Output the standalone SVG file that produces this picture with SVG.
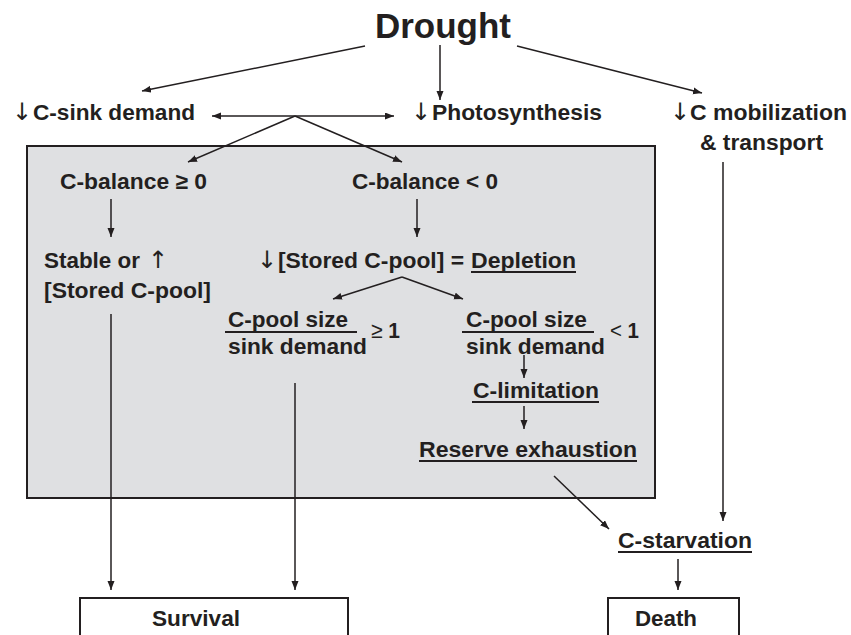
<svg xmlns="http://www.w3.org/2000/svg" width="851" height="635" viewBox="0 0 851 635">
<style>
  .t { font-family: "Liberation Sans", Arial, Helvetica, sans-serif; font-weight: bold; font-size: 22.5px; fill: #231f20; }
  .big { font-size: 35px; }
  .ar { font-family: "DejaVu Sans", "Liberation Sans", sans-serif; font-weight: normal; font-size: 24px; fill: #231f20; }
  .c { stroke: #231f20; stroke-width: 1.5; fill: none; }
  .ul { stroke: #231f20; stroke-width: 2; }
  .box { fill: #ffffff; stroke: #231f20; stroke-width: 2; }
</style>
<defs>
  <marker id="ah" markerUnits="userSpaceOnUse" markerWidth="10" markerHeight="8" refX="9" refY="3.5" orient="auto-start-reverse">
    <path d="M0,0 L9,3.5 L0,7 z" fill="#231f20"/>
  </marker>
</defs>
<rect width="851" height="635" fill="#ffffff"/>
<g id="panel">
  <rect x="27" y="146" width="628" height="352" fill="#dfe0e2" stroke="#231f20" stroke-width="2"/>
</g>
<g id="connectors">
  <line class="c" x1="365" y1="46" x2="142" y2="91" marker-end="url(#ah)"/>
  <line class="c" x1="440" y1="45" x2="440" y2="100" marker-end="url(#ah)"/>
  <line class="c" x1="517" y1="46" x2="702" y2="93" marker-end="url(#ah)"/>
  <line class="c" x1="212" y1="116" x2="394" y2="116" marker-start="url(#ah)" marker-end="url(#ah)"/>
  <line class="c" x1="295" y1="116" x2="188" y2="162" marker-end="url(#ah)"/>
  <line class="c" x1="295" y1="116" x2="402" y2="162" marker-end="url(#ah)"/>
  <line class="c" x1="111" y1="199" x2="111" y2="237" marker-end="url(#ah)"/>
  <line class="c" x1="417" y1="199" x2="417" y2="237" marker-end="url(#ah)"/>
  <line class="c" x1="402" y1="277" x2="333" y2="299" marker-end="url(#ah)"/>
  <line class="c" x1="402" y1="277" x2="463" y2="299" marker-end="url(#ah)"/>
  <line class="c" x1="524" y1="355" x2="524" y2="378" marker-end="url(#ah)"/>
  <line class="c" x1="524" y1="406" x2="524" y2="429" marker-end="url(#ah)"/>
  <line class="c" x1="554" y1="476" x2="609" y2="529" marker-end="url(#ah)"/>
  <line class="c" x1="723" y1="162" x2="723" y2="521" marker-end="url(#ah)"/>
  <line class="c" x1="678" y1="559" x2="678" y2="590" marker-end="url(#ah)"/>
  <line class="c" x1="111" y1="314" x2="111" y2="590" marker-end="url(#ah)"/>
  <line class="c" x1="295" y1="383" x2="295" y2="590" marker-end="url(#ah)"/>
</g>
<g id="drought">
  <text class="t big" x="375" y="38" textLength="136" lengthAdjust="spacingAndGlyphs">Drought</text>
</g>
<g id="sink-demand">
  <text class="ar" x="12" y="119.5">↓</text>
  <text class="t" x="33" y="119.5" textLength="162" lengthAdjust="spacingAndGlyphs">C-sink demand</text>
</g>
<g id="photosynthesis">
  <text class="ar" x="411" y="119.5">↓</text>
  <text class="t" x="432" y="119.5" textLength="170" lengthAdjust="spacingAndGlyphs">Photosynthesis</text>
</g>
<g id="mobilization">
  <text class="ar" x="670" y="119.5">↓</text>
  <text class="t" x="690" y="119.5" textLength="157" lengthAdjust="spacingAndGlyphs">C mobilization</text>
  <text class="t" x="700" y="150" textLength="123" lengthAdjust="spacingAndGlyphs">&amp; transport</text>
</g>
<g id="balance-pos">
  <text class="t" x="60" y="189" textLength="147" lengthAdjust="spacingAndGlyphs">C-balance ≥ 0</text>
</g>
<g id="balance-neg">
  <text class="t" x="352" y="189" textLength="146" lengthAdjust="spacingAndGlyphs">C-balance &lt; 0</text>
</g>
<g id="stable">
  <text class="t" x="44" y="268" textLength="96" lengthAdjust="spacingAndGlyphs">Stable or</text>
  <text class="ar" x="148" y="268">↑</text>
  <text class="t" x="44" y="298" textLength="167" lengthAdjust="spacingAndGlyphs">[Stored C-pool]</text>
</g>
<g id="depletion">
  <text class="ar" x="257" y="268">↓</text>
  <text class="t" x="278" y="268" textLength="186" lengthAdjust="spacingAndGlyphs">[Stored C-pool] =</text>
  <text class="t" x="471" y="268" textLength="105" lengthAdjust="spacingAndGlyphs">Depletion</text>
  <line class="ul" x1="471" y1="272" x2="576" y2="272"/>
</g>
<g id="ratio-ge1">
  <text class="t" x="228" y="327" textLength="120" lengthAdjust="spacingAndGlyphs">C-pool size</text>
  <line class="ul" x1="225" y1="332" x2="357" y2="332"/>
  <text class="t" x="228" y="354" textLength="139" lengthAdjust="spacingAndGlyphs">sink demand</text>
  <text class="t" x="371" y="338" textLength="29" lengthAdjust="spacingAndGlyphs"><tspan font-weight="normal">≥</tspan> 1</text>
</g>
<g id="ratio-lt1">
  <text class="t" x="466" y="327" textLength="121" lengthAdjust="spacingAndGlyphs">C-pool size</text>
  <line class="ul" x1="462" y1="332" x2="594" y2="332"/>
  <text class="t" x="466" y="354" textLength="139" lengthAdjust="spacingAndGlyphs">sink demand</text>
  <text class="t" x="610" y="338" textLength="29" lengthAdjust="spacingAndGlyphs"><tspan font-weight="normal">&lt;</tspan> 1</text>
</g>
<g id="c-limitation">
  <text class="t" x="473" y="398" textLength="126" lengthAdjust="spacingAndGlyphs">C-limitation</text>
  <line class="ul" x1="472" y1="402" x2="599" y2="402"/>
</g>
<g id="reserve-exhaustion">
  <text class="t" x="419" y="457" textLength="218" lengthAdjust="spacingAndGlyphs">Reserve exhaustion</text>
  <line class="ul" x1="419" y1="461" x2="637" y2="461"/>
</g>
<g id="c-starvation">
  <text class="t" x="618" y="548" textLength="134" lengthAdjust="spacingAndGlyphs">C-starvation</text>
  <line class="ul" x1="618" y1="552" x2="752" y2="552"/>
</g>
<g id="survival">
  <rect class="box" x="80" y="598" width="268" height="50"/>
  <text class="t" x="152" y="626" textLength="88" lengthAdjust="spacingAndGlyphs">Survival</text>
</g>
<g id="death">
  <rect class="box" x="608" y="598" width="131" height="50"/>
  <text class="t" x="635" y="626" textLength="62" lengthAdjust="spacingAndGlyphs">Death</text>
</g>
</svg>
